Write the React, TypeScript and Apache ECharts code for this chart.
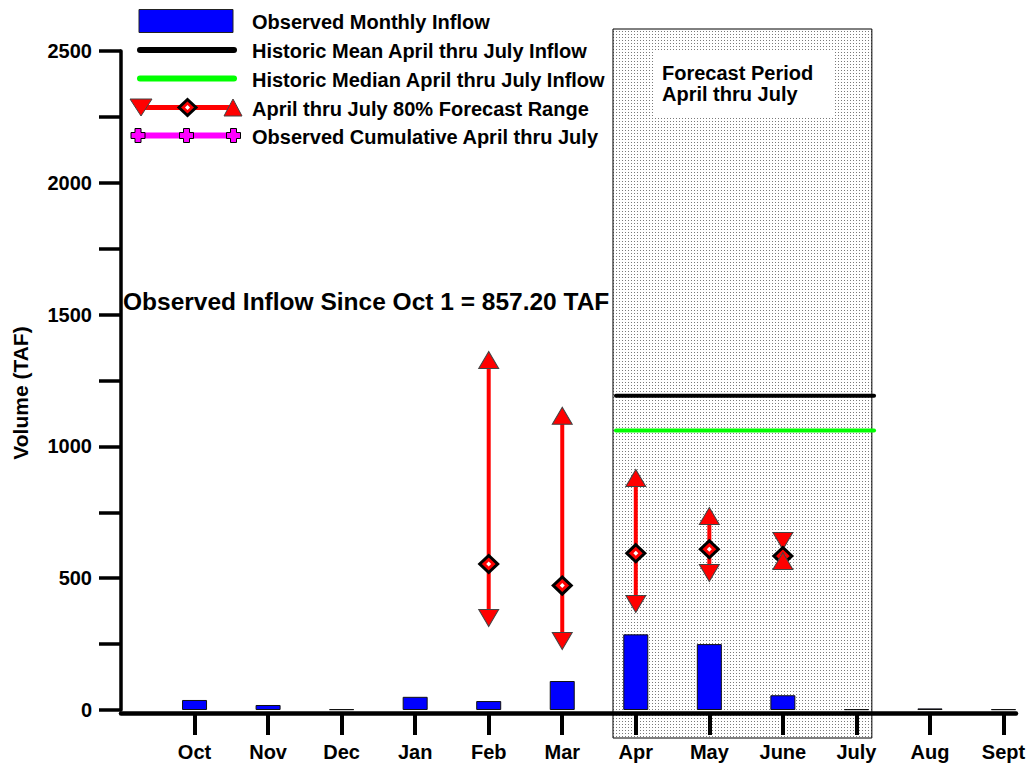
import React, { useEffect, useRef } from "react";
import * as echarts from "echarts";

// ---------- data ----------
const MONTHS = ["Oct", "Nov", "Dec", "Jan", "Feb", "Mar", "Apr", "May", "June", "July", "Aug", "Sept"];
const MONTH_POS = [1, 2, 3, 4, 5, 6, 7, 8, 9, 10, 11, 12];
const MONTHLY_INFLOW = [38, 19, 3, 50, 34, 110, 287, 250, 56, 3, 6, 3];

const FORECAST_POS = [5, 6, 7, 8, 9]; // Feb .. June
const FORECAST_MIN = [349, 262, 402, 520, 641];
const FORECAST_MEDIAN = [554, 472, 595, 610, 584];
const FORECAST_MAX = [1328, 1116, 880, 736, 565];

const HIST_MEAN = 1192;
const HIST_MEDIAN = 1060;
const HIST_SPAN = [6.73, 10.24];
const FORECAST_PERIOD = [6.69, 10.21];

const OBSERVED_CUMULATIVE: number[][] = [];

const Y_LABELS = [0, 500, 1000, 1500, 2000, 2500];
const Y_MAX = 2500;
const X_MAX = 12.17;

const FONT = "'Liberation Sans', Arial, sans-serif";

const LEGEND_ITEMS = [
  "Observed Monthly Inflow",
  "Historic Mean April thru July Inflow",
  "Historic Median April thru July Inflow",
  "April thru July 80% Forecast Range",
  "Observed Cumulative April thru July",
];

function plusPoints(cx: number, cy: number, s: number, a: number) {
  return [
    [cx - a, cy - s], [cx + a, cy - s], [cx + a, cy - a], [cx + s, cy - a],
    [cx + s, cy + a], [cx + a, cy + a], [cx + a, cy + s], [cx - a, cy + s],
    [cx - a, cy + a], [cx - s, cy + a], [cx - s, cy - a], [cx - a, cy - a],
  ];
}
function diamondPoints(cx: number, cy: number, w: number, h: number) {
  return [[cx, cy - h], [cx + w, cy], [cx, cy + h], [cx - w, cy]];
}

export default function App() {
  const ref = useRef<HTMLDivElement>(null);

  useEffect(() => {
    if (!ref.current) return;
    const chart = echarts.init(ref.current, null, { renderer: "svg" });

    const textStyle = { fontFamily: FONT, fontWeight: "bold" as const, fontSize: 20, color: "#000" };

    const option: any = {
      animation: false,
      backgroundColor: "#fff",
      grid: { left: 121, right: 13, top: 51, bottom: 55 },
      xAxis: {
        type: "value",
        min: 0,
        max: X_MAX,
        interval: 1,
        position: "bottom",
        offset: 3,
        axisLine: { onZero: false, lineStyle: { color: "#000", width: 4.5 } },
        axisTick: {
          customValues: MONTH_POS,
          length: 22,
          lineStyle: { color: "#000", width: 4 },
        },
        axisLabel: {
          customValues: MONTH_POS,
          margin: 29,
          formatter: (v: number) => MONTHS[Math.round(v) - 1] ?? "",
          ...textStyle,
        },
        splitLine: { show: false },
      },
      yAxis: {
        type: "value",
        min: 0,
        max: Y_MAX,
        interval: 250,
        axisLine: { show: true, lineStyle: { color: "#000", width: 3.5 } },
        axisTick: { show: true, length: 22, lineStyle: { color: "#000", width: 3.5 } },
        axisLabel: {
          margin: 29,
          formatter: (v: number) => (Y_LABELS.includes(v) ? String(v) : ""),
          ...textStyle,
        },
        splitLine: { show: false },
      },
      series: [
        {
          name: "Observed Monthly Inflow",
          type: "bar",
          barWidth: 25,
          data: MONTH_POS.map((x, i) => [x, MONTHLY_INFLOW[i]]),
          itemStyle: { color: "#0000ff", borderColor: "#111", borderWidth: 1 },
          z: 3,
        },
        {
          name: "Historic Mean April thru July Inflow",
          type: "line",
          data: HIST_SPAN.map((x) => [x, HIST_MEAN]),
          showSymbol: false,
          symbol: "none",
          lineStyle: { color: "#000", width: 4, cap: "round" },
          z: 3,
        },
        {
          name: "Historic Median April thru July Inflow",
          type: "line",
          data: HIST_SPAN.map((x) => [x, HIST_MEDIAN]),
          showSymbol: false,
          symbol: "none",
          lineStyle: { color: "#00ff00", width: 4, cap: "round" },
          z: 3,
        },
        {
          name: "April thru July 80% Forecast Range",
          type: "custom",
          data: FORECAST_POS.map((x, i) => [x, FORECAST_MIN[i], FORECAST_MAX[i]]),
          renderItem: (params: any, api: any) => {
            const x = api.value(0);
            const a = api.coord([x, api.value(1)]);
            const b = api.coord([x, api.value(2)]);
            return {
              type: "line",
              shape: { x1: a[0], y1: a[1], x2: b[0], y2: b[1] },
              style: { stroke: "#ff0000", lineWidth: 4 },
            };
          },
          z: 4,
        },
        {
          name: "Forecast Min",
          type: "scatter",
          data: FORECAST_POS.map((x, i) => [x, FORECAST_MIN[i]]),
          symbol: "triangle",
          symbolRotate: 180,
          symbolSize: [20, 17],
          itemStyle: { color: "#ff0000", borderColor: "#444", borderWidth: 1, opacity: 1 },
          z: 5,
        },
        {
          name: "Forecast Median",
          type: "scatter",
          data: FORECAST_POS.map((x, i) => [x, FORECAST_MEDIAN[i]]),
          symbol: "diamond",
          symbolSize: [18, 17],
          itemStyle: { color: "#ff0000", borderColor: "#000", borderWidth: 3, opacity: 1 },
          z: 5,
        },
        {
          name: "Forecast Median Core",
          type: "scatter",
          data: FORECAST_POS.map((x, i) => [x, FORECAST_MEDIAN[i]]),
          symbol: "diamond",
          symbolSize: [5, 5],
          itemStyle: { color: "#ffffff", opacity: 1 },
          z: 5,
        },
        {
          name: "Forecast Max",
          type: "scatter",
          data: FORECAST_POS.map((x, i) => [x, FORECAST_MAX[i]]),
          symbol: "triangle",
          symbolSize: [20, 17],
          itemStyle: { color: "#ff0000", borderColor: "#444", borderWidth: 1, opacity: 1 },
          z: 5,
        },
        {
          name: "Observed Cumulative April thru July",
          type: "line",
          data: OBSERVED_CUMULATIVE,
          lineStyle: { color: "#ff00ff", width: 4 },
          itemStyle: { color: "#ff00ff" },
          z: 5,
        },
      ],
    };

    chart.setOption(option);

    const p0 = chart.convertToPixel({ gridIndex: 0 }, [FORECAST_PERIOD[0], 0]) as number[];
    const p1 = chart.convertToPixel({ gridIndex: 0 }, [FORECAST_PERIOD[1], 0]) as number[];

    const c = document.createElement("canvas");
    c.width = 3;
    c.height = 3;
    const ctx = c.getContext("2d")!;
    ctx.fillStyle = "#ffffff";
    ctx.fillRect(0, 0, 3, 3);
    ctx.fillStyle = "#7a7a7a";
    ctx.fillRect(1, 1, 1, 1);
    const dots = c.toDataURL();

    const boxTop = 29;
    const boxBottom = 738;

    const legendX = 252;
    const rows = [20.5, 50, 78.5, 107.5, 135.5];

    const graphic: any[] = [
      {
        type: "rect",
        z: -5,
        shape: { x: p0[0], y: boxTop, width: p1[0] - p0[0], height: boxBottom - boxTop },
        style: {
          fill: { image: dots, repeat: "repeat", imageWidth: 3, imageHeight: 3 },
          stroke: "#000",
          lineWidth: 1,
        },
      },
      {
        type: "rect",
        z: -4,
        shape: { x: 653, y: 52, width: 180, height: 65 },
        style: { fill: "#fff" },
      },
      {
        type: "text",
        z: -3,
        x: 662,
        y: 73,
        style: { text: "Forecast Period", font: `bold 20px ${FONT}`, fill: "#000", verticalAlign: "middle" },
      },
      {
        type: "text",
        z: -3,
        x: 662,
        y: 94,
        style: { text: "April thru July", font: `bold 20px ${FONT}`, fill: "#000", verticalAlign: "middle" },
      },
      {
        type: "text",
        x: 123,
        y: 301,
        z: 10,
        style: {
          text: "Observed Inflow Since Oct 1 = 857.20 TAF",
          font: `bold 24.5px ${FONT}`,
          fill: "#000",
          verticalAlign: "middle",
        },
      },
      {
        type: "text",
        x: 20,
        y: 393,
        rotation: Math.PI / 2,
        style: {
          text: "Volume (TAF)",
          font: `bold 21px ${FONT}`,
          fill: "#000",
          align: "center",
          verticalAlign: "middle",
        },
      },
      // legend icons
      {
        type: "rect",
        shape: { x: 139, y: 9.5, width: 94, height: 23 },
        style: { fill: "#0000ff", stroke: "#222", lineWidth: 1 },
      },
      {
        type: "line",
        shape: { x1: 140, y1: 50, x2: 234, y2: 50 },
        style: { stroke: "#000", lineWidth: 6, lineCap: "round" },
      },
      {
        type: "line",
        shape: { x1: 140, y1: 78.5, x2: 234, y2: 78.5 },
        style: { stroke: "#00ff00", lineWidth: 6, lineCap: "round" },
      },
      {
        type: "line",
        shape: { x1: 140, y1: 107.5, x2: 233, y2: 107.5 },
        style: { stroke: "#ff0000", lineWidth: 5 },
      },
      {
        type: "polygon",
        shape: { points: [[130, 99], [152, 99], [141, 116]] },
        style: { fill: "#ff0000", stroke: "#444", lineWidth: 1 },
      },
      {
        type: "polygon",
        shape: { points: diamondPoints(187.5, 107.5, 8.5, 8) },
        style: { fill: "#ff0000", stroke: "#000", lineWidth: 3 },
      },
      {
        type: "polygon",
        shape: { points: diamondPoints(187.5, 107.5, 2.5, 2.5) },
        style: { fill: "#fff" },
      },
      {
        type: "polygon",
        shape: { points: [[224, 116], [242, 116], [233, 99]] },
        style: { fill: "#ff0000", stroke: "#444", lineWidth: 1 },
      },
      {
        type: "line",
        shape: { x1: 137, y1: 135.5, x2: 235, y2: 135.5 },
        style: { stroke: "#ff00ff", lineWidth: 6 },
      },
      ...[138, 186.5, 233.5].map((cx) => ({
        type: "polygon",
        shape: { points: plusPoints(cx, 135.5, 7, 3) },
        style: { fill: "#ff00ff", stroke: "#000", lineWidth: 1 },
      })),
      ...LEGEND_ITEMS.map((t, i) => ({
        type: "text",
        x: legendX,
        y: rows[i] + 1,
        style: { text: t, font: `bold 20px ${FONT}`, fill: "#000", verticalAlign: "middle" },
      })),
    ];

    chart.setOption({ graphic });

    return () => chart.dispose();
  }, []);

  return (
    <div
      ref={ref}
      style={{ position: "fixed", left: 0, top: 0, width: 1029, height: 765, background: "#fff" }}
    />
  );
}
